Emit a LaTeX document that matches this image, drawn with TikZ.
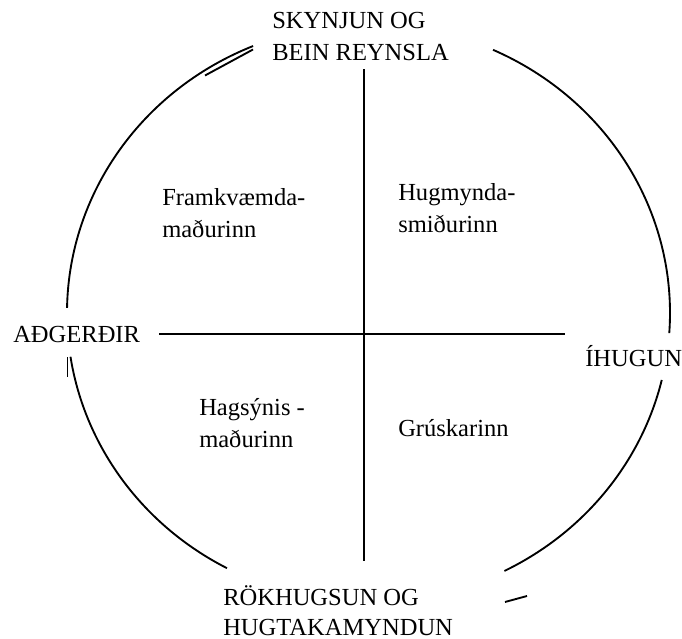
\documentclass[tikz,border=0pt]{standalone}
\usepackage{fontspec}
\setmainfont{Liberation Serif}

\begin{document}
\begin{tikzpicture}[
    x=0.75pt, y=-0.75pt,
    rim/.style={line width=1.4pt},
    axisline/.style={line width=1.4pt},
    pole/.style={anchor=base west, inner sep=0pt, align=left, font=\fontsize{18.4}{24}\selectfont},
    quadlabel/.style={anchor=base west, inner sep=0pt, align=left, font=\fontsize{18.4}{24}\selectfont}
]
\useasboundingbox (0,0) rectangle (682,639);

% Axes: positions in pixels of the 682x639 page, y running down.
\coordinate (ytop) at (364,69);
\coordinate (ybot) at (364,561);
\coordinate (xleft) at (159,334);
\coordinate (xright) at (565,334);
\draw[axisline] (ytop) -- (ybot);
\draw[axisline] (xleft) -- (xright);

% Ring: one ellipse, centre (368.5,313), broken where the pole labels sit.
% Angles run clockwise from east because y points down.
\coordinate (ring) at (368.5,313);
\draw[rim] (ring) ++(181:301.5 and 289) arc[start angle=181, end angle=247.5, x radius=301.5, y radius=289];
\draw[rim] (205,75.5) -- (253,49.5);
\draw[rim] (ring) ++(-65.6:301.5 and 289) arc[start angle=-65.6, end angle=4, x radius=301.5, y radius=289];
\draw[rim] (ring) ++(13.4:301.5 and 289) arc[start angle=13.4, end angle=63.2, x radius=301.5, y radius=289];
\draw[rim] (505,602) -- (527,596);
\draw[rim] (ring) ++(118:301.5 and 289) arc[start angle=118, end angle=171.3, x radius=301.5, y radius=289];
\draw[rim] (67.5,357) -- (67.5,377);

% Pole labels
\node[pole] (experience) at (272,60) {SKYNJUN OG\\BEIN REYNSLA};
\node[pole] (action) at (13,342) {AÐGERÐIR};
\node[pole] (reflection) at (585,366) {ÍHUGUN};
\node[pole, font=\fontsize{18.4}{22.5}\selectfont] (concepts) at (223,635) {RÖKHUGSUN OG\\HUGTAKAMYNDUN};

% Quadrant labels
\node[quadlabel] (doer) at (162,237) {Framkvæmda-\\maðurinn};
\node[quadlabel] (theorist) at (398,232) {Hugmynda-\\smiðurinn};
\node[quadlabel] (pragmatist) at (199,447) {Hagsýnis -\\maðurinn};
\node[quadlabel] (scholar) at (398,436) {Grúskarinn};
\end{tikzpicture}
\end{document}
